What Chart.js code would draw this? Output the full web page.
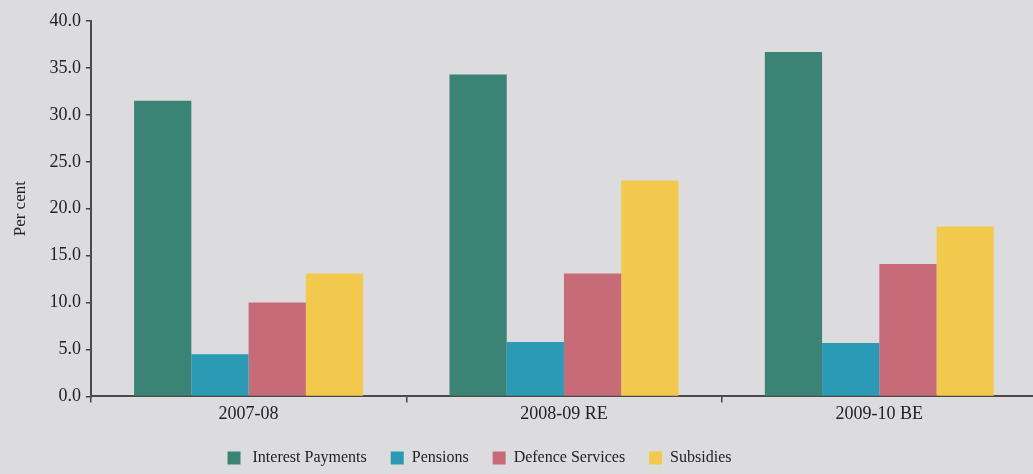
<!DOCTYPE html>
<html>
<head>
<meta charset="utf-8">
<script src="https://cdn.jsdelivr.net/npm/chart.js@4/dist/chart.umd.min.js"></script>
<style>
html,body{margin:0;padding:0;background:#dcdcde;overflow:hidden;}
#wrap{width:1040px;height:474px;position:relative;}
</style>
</head>
<body>
<div id="wrap"><canvas id="c" width="1040" height="474"></canvas></div>
<script>
const categories = ['2007-08', '2008-09 RE', '2009-10 BE'];
const interestPayments = [31.5, 34.3, 36.7];
const pensions = [4.5, 5.8, 5.7];
const defenceServices = [10.0, 13.1, 14.1];
const subsidies = [13.1, 23.0, 18.1];
const seriesNames = [' Interest Payments', 'Pensions', 'Defence Services', 'Subsidies'];
const yTicks = [0, 5, 10, 15, 20, 25, 30, 35, 40];

const colors = ['#3b8374', '#2a9ab5', '#c86b78', '#f2c94c'];
const FONT = '"Liberation Serif", "Times New Roman", serif';
Chart.defaults.font.family = FONT;
Chart.defaults.color = '#222';

const shiftLegend = {
  id: 'shiftLegend',
  afterLayout(chart) {
    const lg = chart.legend;
    if (lg) { lg.left -= 44; lg.right -= 44; }
  }
};

new Chart(document.getElementById('c'), {
  type: 'bar',
  data: {
    labels: categories,
    datasets: [interestPayments, pensions, defenceServices, subsidies].map((d, i) => ({
      label: seriesNames[i],
      data: d,
      backgroundColor: colors[i],
      borderWidth: 0,
      categoryPercentage: 0.726,
      barPercentage: 1.0
    }))
  },
  options: {
    responsive: false,
    animation: false,
    devicePixelRatio: 1,
    layout: { padding: { top: 21, left: 10, right: 3, bottom: -2 } },
    plugins: {
      tooltip: { enabled: false },
      legend: {
        position: 'bottom',
        labels: {
          boxWidth: 13,
          boxHeight: 13,
          padding: 24,
          font: { size: 16, family: FONT },
          color: '#222'
        }
      }
    },
    scales: {
      x: {
        offset: true,
        border: { color: '#4a4a4a', width: 2 },
        grid: { offset: true, drawOnChartArea: false, drawTicks: true, tickLength: 6, color: '#444', lineWidth: 1.5 },
        ticks: { font: { size: 18, family: FONT }, color: '#222', padding: 1 }
      },
      y: {
        min: 0, max: 40,
        afterBuildTicks(axis) { axis.ticks = yTicks.map(v => ({ value: v })); },
        border: { color: '#4a4a4a', width: 2 },
        grid: { drawOnChartArea: false, drawTicks: true, tickLength: 5, color: '#444', lineWidth: 1.5 },
        ticks: {
          font: { size: 18, family: FONT }, color: '#222', padding: 5,
          callback: v => Number(v).toFixed(1)
        },
        title: { display: true, text: 'Per cent', font: { size: 17, family: FONT }, color: '#222', padding: { top: 0, bottom: 14 } }
      }
    }
  },
  plugins: [shiftLegend]
});
</script>
</body>
</html>
